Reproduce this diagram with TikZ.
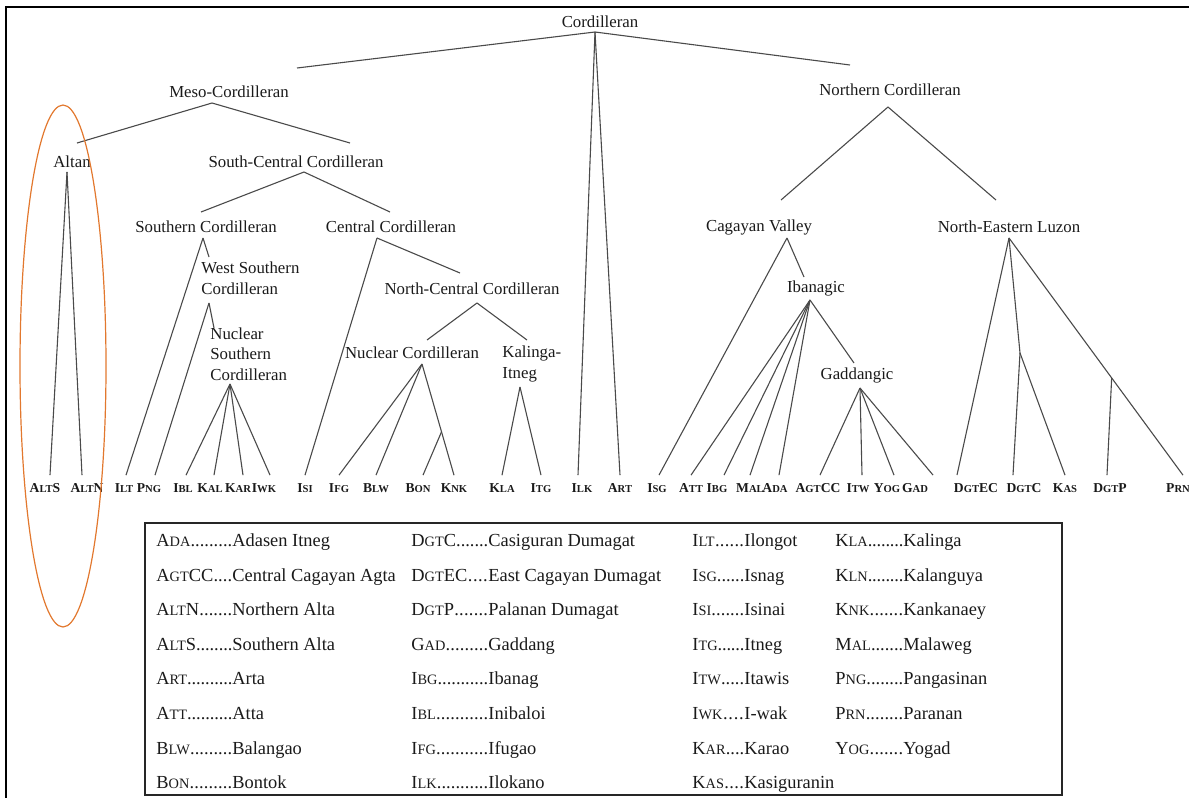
\documentclass[tikz,border=0pt]{standalone}
\usepackage{fontspec}
\setmainfont{Liberation Serif}
\usepackage{graphicx}
\usetikzlibrary{positioning}
\definecolor{ink}    {HTML}{1A1A1A}
\definecolor{branch} {HTML}{4A4A4A}
\definecolor{hilite} {HTML}{E2782E}
% fake small capitals and dotted key boxes
\newcommand{\smcap}[1]{\scalebox{0.78}{#1}}
\newcommand{\leaderdots}{\xleaders\hbox to 2.2pt{\hss.\hss}\hfill}
\newcommand{\keybox}[2]{\makebox[#1][l]{#2\leaderdots}}
\tikzset{
  % --- nodes
  lab/.style   = {inner sep=0pt, text=ink, font=\fontsize{8.4}{10.3}\selectfont},
  leaf/.style  = {inner sep=4pt, text=ink, font=\fontsize{6.8}{8}\selectfont\bfseries},
  key/.style   = {anchor=base west, inner sep=0pt, text=ink, font=\fontsize{9.2}{11}\selectfont},
  % --- lines
  br/.style    = {draw=branch, line width=0.55pt},
  frame/.style = {draw=black, line width=1.1pt},
  legbox/.style= {draw=black!85, line width=1pt},
  ring/.style  = {draw=hilite, line width=0.6pt},
}

\begin{document}
\begin{tikzpicture}[x=0.5pt,y=-0.5pt]
  \useasboundingbox (0,0) rectangle (1189,798);
  % outer frame
  \draw[frame] (1200,7) -- (6,7) -- (6,810);

  % group labels
  \node[lab] (cordilleran)  at (600,22)  {Cordilleran};
  \node[lab] (meso)         at (229,92)  {Meso-Cordilleran};
  \node[lab] (northern)     at (890,90)  {Northern Cordilleran};
  \node[lab] (altan)        at (72,162)  {Altan};
  \node[lab] (southcentral) at (296,162) {South-Central Cordilleran};
  \node[lab] (southern)     at (206,227) {Southern Cordilleran};
  \node[lab] (central)      at (391,227) {Central Cordilleran};
  \node[lab] (cagayan)      at (759,227) {Cagayan Valley};
  \node[lab] (nelu)         at (1009,227) {North-Eastern Luzon};
  \node[lab, anchor=west, align=left] (westsouthern) at (201,278) {West Southern\\Cordilleran};
  \node[lab] (northcentral) at (472,289) {North-Central Cordilleran};
  \node[lab] (ibanagic)     at (816,288) {Ibanagic};
  \node[lab, anchor=west, align=left] (nucsouthern) at (210,354) {Nuclear\\Southern\\Cordilleran};
  \node[lab] (nuclear)      at (412,353) {Nuclear Cordilleran};
  \node[lab, anchor=west, align=left] (kalitneg) at (502,364) {Kalinga-\\Itneg};
  \node[lab] (gaddangic)    at (857,375) {Gaddangic};

  % branch points
  \coordinate (cordilleran-b) at (595,32);
  \coordinate (meso-t) at (297,68);        \coordinate (meso-b) at (212,103);
  \coordinate (northern-t) at (850,65);    \coordinate (northern-b) at (888,107);
  \coordinate (altan-t) at (77,143);       \coordinate (altan-b) at (67,172);
  \coordinate (southcentral-t) at (350,143); \coordinate (southcentral-b) at (304,172);
  \coordinate (southern-t) at (201,212);   \coordinate (southern-b) at (203,238);
  \coordinate (central-t) at (390,212);    \coordinate (central-b) at (377,238);
  \coordinate (cagayan-t) at (781,200);    \coordinate (cagayan-b) at (787,238);
  \coordinate (nelu-t) at (996,200);       \coordinate (nelu-b) at (1009,238);
  \coordinate (westsouthern-t) at (209,257); \coordinate (westsouthern-b) at (209,303);
  \coordinate (northcentral-t) at (460,273); \coordinate (northcentral-b) at (477,303);
  \coordinate (ibanagic-t) at (804,277);   \coordinate (ibanagic-b) at (810,300);
  \coordinate (nucsouthern-t) at (214,328); \coordinate (nucsouthern-b) at (230,384);
  \coordinate (nuclear-t) at (427,340);    \coordinate (nuclear-b) at (422,364);
  \coordinate (kalitneg-t) at (527,340);   \coordinate (kalitneg-b) at (520,387);
  \coordinate (gaddangic-t) at (854,363);  \coordinate (gaddangic-b) at (860,388);
  \coordinate (dgt-j) at (1020,353);

  % languages
  \node[leaf] (alts)  at (45,488)   {A\smcap{LT}S};
  \node[leaf] (altn)  at (87,488)   {A\smcap{LT}N};
  \node[leaf] (ilt)   at (124,488)  {I\smcap{LT}};
  \node[leaf] (png)   at (149,488)  {P\smcap{NG}};
  \node[leaf] (ibl)   at (183,488)  {I\smcap{BL}};
  \node[leaf] (kal)   at (210,488)  {K\smcap{AL}};
  \node[leaf] (kar)   at (238,488)  {K\smcap{AR}};
  \node[leaf] (iwk)   at (264,488)  {I\smcap{WK}};
  \node[leaf] (isi)   at (305,488)  {I\smcap{SI}};
  \node[leaf] (ifg)   at (339,488)  {I\smcap{FG}};
  \node[leaf] (blw)   at (376,488)  {B\smcap{LW}};
  \node[leaf] (bon)   at (418,488)  {B\smcap{ON}};
  \node[leaf] (knk)   at (454,488)  {K\smcap{NK}};
  \node[leaf] (kla)   at (502,488)  {K\smcap{LA}};
  \node[leaf] (itg)   at (541,488)  {I\smcap{TG}};
  \node[leaf] (ilk)   at (582,488)  {I\smcap{LK}};
  \node[leaf] (art)   at (620,488)  {A\smcap{RT}};
  \node[leaf] (isg)   at (657,488)  {I\smcap{SG}};
  \node[leaf] (att)   at (691,488)  {A\smcap{TT}};
  \node[leaf] (ibg)   at (717,488)  {I\smcap{BG}};
  \node[leaf] (mal)   at (750,488)  {M\smcap{AL}};
  \node[leaf] (ada)   at (775,488)  {A\smcap{DA}};
  \node[leaf] (agtcc) at (818,488)  {A\smcap{GT}CC};
  \node[leaf] (itw)   at (858,488)  {I\smcap{TW}};
  \node[leaf] (yog)   at (887,488)  {Y\smcap{OG}};
  \node[leaf] (gad)   at (915,488)  {G\smcap{AD}};
  \node[leaf] (dgtec) at (976,488)  {D\smcap{GT}EC};
  \node[leaf] (dgtc)  at (1024,488) {D\smcap{GT}C};
  \node[leaf] (kas)   at (1065,488) {K\smcap{AS}};
  \node[leaf] (dgtp)  at (1110,488) {D\smcap{GT}P};
  \node[leaf] (prn)   at (1178,488) {P\smcap{RN}};

  % Cordilleran
  \draw[br] (cordilleran-b) -- (meso-t);
  \draw[br] (cordilleran-b) -- (northern-t);
  \draw[br] (cordilleran-b) -- ([xshift=-2pt]ilk.north);
  \draw[br] (cordilleran-b) -- (art.north);
  % Meso-Cordilleran
  \draw[br] (meso-b) -- (altan-t);
  \draw[br] (meso-b) -- (southcentral-t);
  \draw[br] (altan-b) -- ([xshift=2.5pt]alts.north);
  \draw[br] (altan-b) -- ([xshift=-2.5pt]altn.north);
  \draw[br] (southcentral-b) -- (southern-t);
  \draw[br] (southcentral-b) -- (central-t);
  % Southern Cordilleran
  \draw[br] (southern-b) -- ([xshift=1pt]ilt.north);
  \draw[br] (southern-b) -- (westsouthern-t);
  \draw[br] (westsouthern-b) -- ([xshift=3pt]png.north);
  \draw[br] (westsouthern-b) -- (nucsouthern-t);
  \draw[br] (nucsouthern-b) -- ([xshift=1.5pt]ibl.north);
  \draw[br] (nucsouthern-b) -- ([xshift=2pt]kal.north);
  \draw[br] (nucsouthern-b) -- ([xshift=2.5pt]kar.north);
  \draw[br] (nucsouthern-b) -- ([xshift=3pt]iwk.north);
  % Central Cordilleran
  \draw[br] (central-b) -- (isi.north);
  \draw[br] (central-b) -- (northcentral-t);
  \draw[br] (northcentral-b) -- (nuclear-t);
  \draw[br] (northcentral-b) -- (kalitneg-t);
  \draw[br] (nuclear-b) -- (ifg.north);
  \draw[br] (nuclear-b) -- (blw.north);
  \draw[br] (nuclear-b) -- coordinate[pos=0.61] (bon-j) (knk.north);
  \draw[br] (bon-j) -- ([xshift=2.5pt]bon.north);
  \draw[br] (kalitneg-b) -- (kla.north);
  \draw[br] (kalitneg-b) -- (itg.north);
  % Northern Cordilleran
  \draw[br] (northern-b) -- (cagayan-t);
  \draw[br] (northern-b) -- (nelu-t);
  \draw[br] (cagayan-b) -- ([xshift=1pt]isg.north);
  \draw[br] (cagayan-b) -- (ibanagic-t);
  \draw[br] (ibanagic-b) -- (att.north);
  \draw[br] (ibanagic-b) -- ([xshift=3.5pt]ibg.north);
  \draw[br] (ibanagic-b) -- (mal.north);
  \draw[br] (ibanagic-b) -- ([xshift=2pt]ada.north);
  \draw[br] (ibanagic-b) -- (gaddangic-t);
  \draw[br] (gaddangic-b) -- ([xshift=1pt]agtcc.north);
  \draw[br] (gaddangic-b) -- ([xshift=2pt]itw.north);
  \draw[br] (gaddangic-b) -- ([xshift=3.5pt]yog.north);
  \draw[br] (gaddangic-b) -- ([xshift=9pt]gad.north);
  % North-Eastern Luzon
  \draw[br] (nelu-b) -- ([xshift=-9.5pt]dgtec.north);
  \draw[br] (nelu-b) -- (dgt-j);
  \draw[br] (dgt-j) -- ([xshift=-5.5pt]dgtc.north);
  \draw[br] (dgt-j) -- (kas.north);
  \draw[br] (nelu-b) -- coordinate[pos=0.59] (dgtp-j) ([xshift=2.5pt]prn.north);
  \draw[br] (dgtp-j) -- ([xshift=-1.5pt]dgtp.north);

  % highlight round the Altan group
  \draw[ring] (63,366) ellipse [x radius=43, y radius=261];

  % key
  \draw[legbox] (145,523) rectangle (1062,795);
  \node[key] (kAda)   at (156,546) {\keybox{38pt}{A\smcap{DA}}Adasen Itneg};
  \node[key] (kAgtcc) at (156,581) {\keybox{38pt}{A\smcap{GT}CC}Central Cagayan Agta};
  \node[key] (kAltn)  at (156,615) {\keybox{38pt}{A\smcap{LT}N}Northern Alta};
  \node[key] (kAlts)  at (156,650) {\keybox{38pt}{A\smcap{LT}S}Southern Alta};
  \node[key] (kArt)   at (156,684) {\keybox{38pt}{A\smcap{RT}}Arta};
  \node[key] (kAtt)   at (156,719) {\keybox{38pt}{A\smcap{TT}}Atta};
  \node[key] (kBlw)   at (156,754) {\keybox{38pt}{B\smcap{LW}}Balangao};
  \node[key] (kBon)   at (156,788) {\keybox{38pt}{B\smcap{ON}}Bontok};

  \node[key] (kDgtc)  at (411,546) {\keybox{38.5pt}{D\smcap{GT}C}Casiguran Dumagat};
  \node[key] (kDgtec) at (411,581) {\keybox{38.5pt}{D\smcap{GT}EC}East Cagayan Dumagat};
  \node[key] (kDgtp)  at (411,615) {\keybox{38.5pt}{D\smcap{GT}P}Palanan Dumagat};
  \node[key] (kGad)   at (411,650) {\keybox{38.5pt}{G\smcap{AD}}Gaddang};
  \node[key] (kIbg)   at (411,684) {\keybox{38.5pt}{I\smcap{BG}}Ibanag};
  \node[key] (kIbl)   at (411,719) {\keybox{38.5pt}{I\smcap{BL}}Inibaloi};
  \node[key] (kIfg)   at (411,754) {\keybox{38.5pt}{I\smcap{FG}}Ifugao};
  \node[key] (kIlk)   at (411,788) {\keybox{38.5pt}{I\smcap{LK}}Ilokano};

  \node[key] (kIlt)   at (692,546) {\keybox{26pt}{I\smcap{LT}}Ilongot};
  \node[key] (kIsg)   at (692,581) {\keybox{26pt}{I\smcap{SG}}Isnag};
  \node[key] (kIsi)   at (692,615) {\keybox{26pt}{I\smcap{SI}}Isinai};
  \node[key] (kItg)   at (692,650) {\keybox{26pt}{I\smcap{TG}}Itneg};
  \node[key] (kItw)   at (692,684) {\keybox{26pt}{I\smcap{TW}}Itawis};
  \node[key] (kIwk)   at (692,719) {\keybox{26pt}{I\smcap{WK}}I-wak};
  \node[key] (kKar)   at (692,754) {\keybox{26pt}{K\smcap{AR}}Karao};
  \node[key] (kKas)   at (692,788) {\keybox{26pt}{K\smcap{AS}}Kasiguranin};

  \node[key] (kKla)   at (835,546) {\keybox{34pt}{K\smcap{LA}}Kalinga};
  \node[key] (kKln)   at (835,581) {\keybox{34pt}{K\smcap{LN}}Kalanguya};
  \node[key] (kKnk)   at (835,615) {\keybox{34pt}{K\smcap{NK}}Kankanaey};
  \node[key] (kMal)   at (835,650) {\keybox{34pt}{M\smcap{AL}}Malaweg};
  \node[key] (kPng)   at (835,684) {\keybox{34pt}{P\smcap{NG}}Pangasinan};
  \node[key] (kPrn)   at (835,719) {\keybox{34pt}{P\smcap{RN}}Paranan};
  \node[key] (kYog)   at (835,754) {\keybox{34pt}{Y\smcap{OG}}Yogad};
\end{tikzpicture}
\end{document}
